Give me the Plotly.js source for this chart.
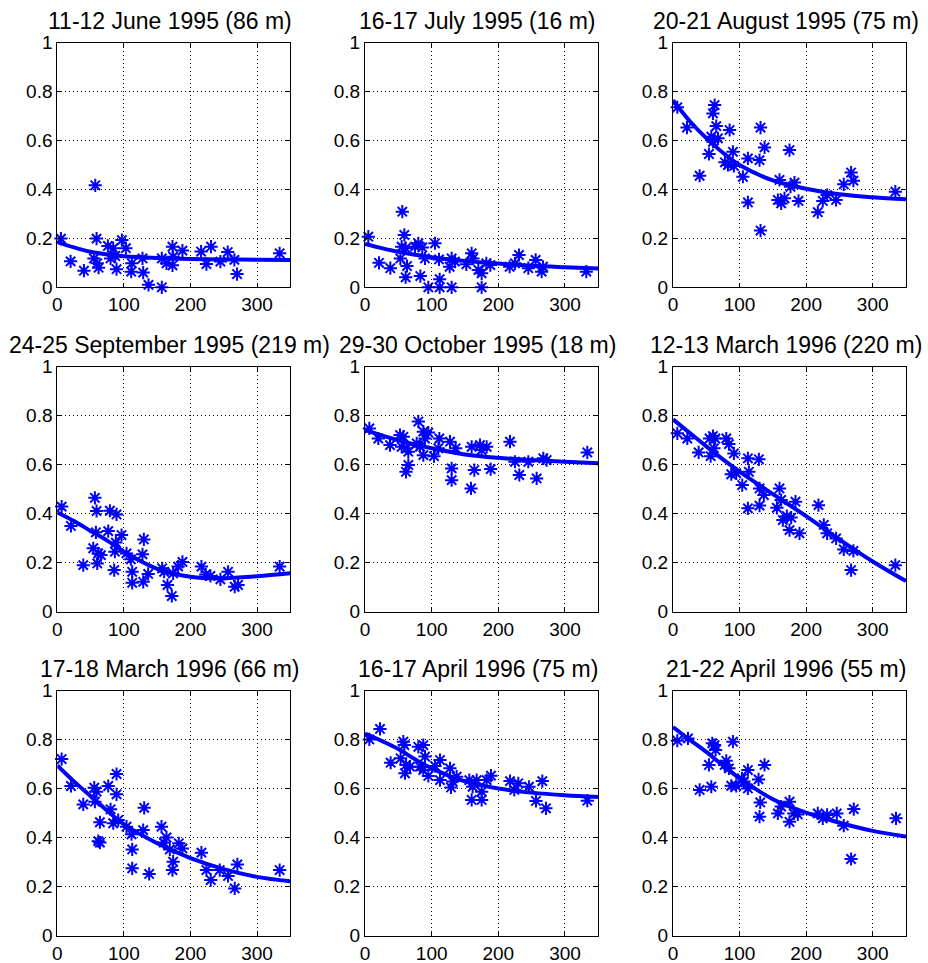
<!DOCTYPE html>
<html>
<head>
<meta charset="utf-8">
<script src="https://cdn.plot.ly/plotly-3.0.1.min.js"></script>
<style>html,body{margin:0;padding:0;background:#fff;}#chart{width:928px;height:963px;}</style>
</head>
<body>
<div id="chart"></div>
<script>
// ---------- data ----------
const titles = [
  "11-12 June 1995 (86 m)", "16-17 July 1995 (16 m)", "20-21 August 1995 (75 m)",
  "24-25 September 1995 (219 m)", "29-30 October 1995 (18 m)", "12-13 March 1996 (220 m)",
  "17-18 March 1996 (66 m)", "16-17 April 1996 (75 m)", "21-22 April 1996 (55 m)"
];
const xTicks = [0, 100, 200, 300];
const yTicks = [0, 0.2, 0.4, 0.6, 0.8, 1];

// fitted curves, read at these distances
const fitX = [0, 25, 50, 75, 100, 150, 200, 250, 300, 350];
const fit1 = [0.185,0.163,0.145,0.134,0.127,0.120,0.116,0.114,0.113,0.112];
const fit2 = [0.177,0.160,0.145,0.133,0.123,0.108,0.097,0.088,0.082,0.077];
const fit3 = [0.765,0.680,0.610,0.550,0.500,0.437,0.403,0.380,0.368,0.360];
const fit4 = [0.405,0.370,0.330,0.290,0.245,0.175,0.143,0.137,0.145,0.157];
const fit5 = [0.742,0.720,0.700,0.682,0.667,0.642,0.628,0.619,0.612,0.606];
const fit6 = [0.785,0.730,0.675,0.622,0.572,0.480,0.390,0.295,0.205,0.125];
const fit7 = [0.695,0.630,0.570,0.510,0.455,0.377,0.317,0.272,0.240,0.222];
const fit8 = [0.825,0.795,0.762,0.720,0.683,0.630,0.601,0.584,0.573,0.566];
const fit9 = [0.852,0.800,0.750,0.695,0.643,0.557,0.502,0.461,0.428,0.405];

// observations
const x1 = [5.5,20,40,57,59,55,60,62,76,84,80,89,87,97,103,112,111,128,129,137,157,157,164,173,173,174,188,216,224,231,245,256,266,270,334];
const y1 = [0.199,0.106,0.068,0.417,0.199,0.118,0.098,0.08,0.169,0.16,0.118,0.074,0.128,0.193,0.16,0.098,0.064,0.118,0.06,0.01,0.0,0.118,0.098,0.166,0.09,0.125,0.15,0.146,0.095,0.166,0.105,0.144,0.112,0.054,0.139];

const x2 = [5,21,38,56,59,55,53,61,63,61,75,80,86,83,90,95,105,111,112,112,127,130,130,135,152,160,162,170,175,175,182,188,217,225,231,245,256,265,267,332];
const y2 = [0.207,0.10,0.078,0.309,0.214,0.166,0.118,0.16,0.087,0.041,0.166,0.18,0.163,0.046,0.118,0,0.18,0.114,0.033,0,0.084,0.118,0,0.105,0.094,0.139,0.118,0.071,0.057,0,0.098,0.091,0.084,0.098,0.132,0.078,0.112,0.064,0.084,0.064];

const x3 = [6.5,21,40,54,57.5,60,62.5,65,67.5,60,78,85,82.5,90,91.5,105,112.5,112.5,130,131.5,131.5,137.5,160,157.5,162.5,167.5,175,176.5,182.5,188.5,217.5,225,231.5,245,256.5,267.5,271,334];
const y3 = [0.736,0.653,0.456,0.545,0.616,0.711,0.745,0.659,0.609,0.595,0.511,0.643,0.5,0.554,0.496,0.452,0.527,0.347,0.52,0.653,0.232,0.572,0.439,0.357,0.343,0.364,0.561,0.411,0.428,0.353,0.307,0.353,0.377,0.357,0.421,0.469,0.436,0.391];

const x4 = [6.5,20.5,39,56.5,59,58,54,61.5,60,65.5,76.5,79,89,88,86.5,85.5,96.5,104,110.5,112.5,112.5,128,130,129,136.5,157.5,160.5,165.5,172,174,181.5,188,216.5,223,230,245,256.5,266.5,271.5,334];
const y4 = [0.429,0.35,0.19,0.465,0.411,0.324,0.259,0.238,0.197,0.231,0.329,0.412,0.397,0.282,0.245,0.17,0.313,0.238,0.214,0.163,0.118,0.234,0.295,0.122,0.154,0.177,0.163,0.109,0.064,0.156,0.184,0.203,0.184,0.152,0.146,0.132,0.163,0.102,0.109,0.184];

const x5 = [6.5,20,37.5,52.5,57.5,55,62.5,65,61.5,65,80,77.5,87.5,90,95,87.5,82.5,103.5,111.5,110,127.5,130,130,136,159,160,164,172.5,175,182.5,188.5,217.5,225,231.5,245,257.5,267.5,272.5,333.5];
const y5 = [0.748,0.707,0.68,0.721,0.714,0.673,0.667,0.653,0.571,0.599,0.776,0.687,0.735,0.707,0.731,0.639,0.673,0.635,0.707,0.667,0.694,0.585,0.537,0.667,0.503,0.673,0.578,0.68,0.66,0.673,0.582,0.694,0.612,0.558,0.612,0.544,0.626,0.619,0.65];

const x6 = [6.5,21.5,38.5,55,56.5,60,63.5,61.5,80,84,91.5,87.5,95,104,112.5,114,112.5,129,130,130,136.5,156,160,162.5,165,171,175,177.5,184,190,218.5,226.5,231.5,245,256.5,271,267.5,334];
const y6 = [0.728,0.707,0.65,0.707,0.635,0.717,0.707,0.667,0.707,0.684,0.646,0.561,0.565,0.517,0.626,0.571,0.422,0.622,0.503,0.433,0.476,0.424,0.503,0.456,0.374,0.39,0.333,0.384,0.449,0.32,0.435,0.354,0.32,0.299,0.254,0.248,0.17,0.19];

const x7 = [6.5,20.5,39,55.5,59,56.5,64,61.5,64,76.5,80,84,89,89,91.5,104,111.5,112.5,112.5,129,130.5,138,156.5,160,164,169,174,173,182.5,188,216.5,224,230.5,244,256.5,266.5,270.5,334];
const y7 = [0.721,0.611,0.536,0.604,0.588,0.547,0.463,0.386,0.38,0.611,0.516,0.459,0.66,0.577,0.472,0.445,0.414,0.352,0.275,0.431,0.522,0.252,0.445,0.38,0.401,0.352,0.302,0.268,0.377,0.356,0.339,0.268,0.227,0.268,0.244,0.193,0.291,0.268];

const x8 = [6.5,22.5,38.5,53.5,57.5,59,61.5,60,67.5,80,87.5,90,82.5,87.5,95,105,112.5,112.5,127.5,129,131.5,137.5,156.5,160,161.5,167.5,175,175,182.5,189,217.5,224,230,246,256.5,266,271.5,333.5];
const y8 = [0.801,0.844,0.706,0.724,0.792,0.778,0.697,0.663,0.69,0.771,0.778,0.731,0.69,0.676,0.652,0.693,0.717,0.635,0.683,0.605,0.629,0.649,0.635,0.554,0.608,0.635,0.554,0.588,0.635,0.653,0.631,0.595,0.622,0.608,0.55,0.631,0.52,0.551];

const x9 = [6.5,22.5,40,54,57.5,59,62.5,64,77.5,80,84,90,87.5,95,103.5,106.5,112.5,112.5,128.5,131,130,137.5,157.5,162.5,175,175,181.5,187.5,217.5,225,231.5,246,256.5,267.5,271.5,335];
const y9 = [0.796,0.805,0.595,0.697,0.608,0.785,0.778,0.758,0.697,0.714,0.683,0.792,0.612,0.611,0.642,0.629,0.676,0.601,0.638,0.544,0.486,0.697,0.499,0.527,0.547,0.465,0.499,0.495,0.499,0.479,0.493,0.499,0.449,0.313,0.517,0.479];

// ---------- build the figure ----------
const obsX = [x1,x2,x3,x4,x5,x6,x7,x8,x9];
const obsY = [y1,y2,y3,y4,y5,y6,y7,y8,y9];
const fits = [fit1,fit2,fit3,fit4,fit5,fit6,fit7,fit8,fit9];

const W = 928, H = 963;
const colPx = [[57.3, 290.3], [365, 598.3], [673, 906]];
const rowPx = [[42.7, 287.3], [366.7, 611.7], [690.7, 935.7]];
const BLUE = '#0000ff';
const FONT = 'Arial, "Liberation Sans", Helvetica, sans-serif';

const traces = [];
const layout = {
  width: W, height: H,
  margin: {l: 0, r: 0, t: 0, b: 0},
  paper_bgcolor: '#ffffff', plot_bgcolor: '#ffffff',
  showlegend: false,
  font: {family: FONT, size: 19, color: '#000'},
  annotations: []
};

for (let i = 0; i < 9; i++) {
  const r = Math.floor(i / 3), c = i % 3;
  const sfx = i === 0 ? '' : String(i + 1);
  const xa = 'x' + sfx, ya = 'y' + sfx;
  traces.push({
    x: fitX, y: fits[i], xaxis: xa, yaxis: ya, type: 'scatter', mode: 'lines',
    line: {color: BLUE, width: 4, shape: 'spline', smoothing: 1}, hoverinfo: 'skip'
  });
  traces.push({
    x: obsX[i], y: obsY[i], xaxis: xa, yaxis: ya, type: 'scatter', mode: 'markers',
    marker: {symbol: 'asterisk-open', size: 11, color: BLUE, line: {color: BLUE, width: 2}},
    cliponaxis: false
  });
  const dom_x = [colPx[c][0] / W, colPx[c][1] / W];
  const dom_y = [1 - rowPx[r][1] / H, 1 - rowPx[r][0] / H];
  const common = {
    showline: true, mirror: 'ticks', linecolor: '#000', linewidth: 1,
    ticks: 'inside', ticklen: 4, tickcolor: '#000',
    showgrid: true, gridcolor: '#000', gridwidth: 1, griddash: '1px,3px',
    zeroline: false, fixedrange: true,
    tickfont: {family: FONT, size: 19, color: '#000'}
  };
  layout['xaxis' + sfx] = Object.assign({}, common, {
    domain: dom_x, range: [0, 350], tickmode: 'array', tickvals: xTicks,
    anchor: ya
  });
  layout['yaxis' + sfx] = Object.assign({}, common, {
    domain: dom_y, range: [0, 1], tickmode: 'array', tickvals: yTicks,
    anchor: xa
  });
  layout.annotations.push({
    text: titles[i], xref: 'paper', yref: 'paper',
    x: (dom_x[0] + dom_x[1]) / 2, y: dom_y[1],
    xanchor: 'center', yanchor: 'bottom', yshift: 7, xshift: -4,
    showarrow: false, font: {family: FONT, size: 23, color: '#000'}
  });
}

Plotly.newPlot('chart', traces, layout, {displayModeBar: false, staticPlot: true});
</script>
</body>
</html>
